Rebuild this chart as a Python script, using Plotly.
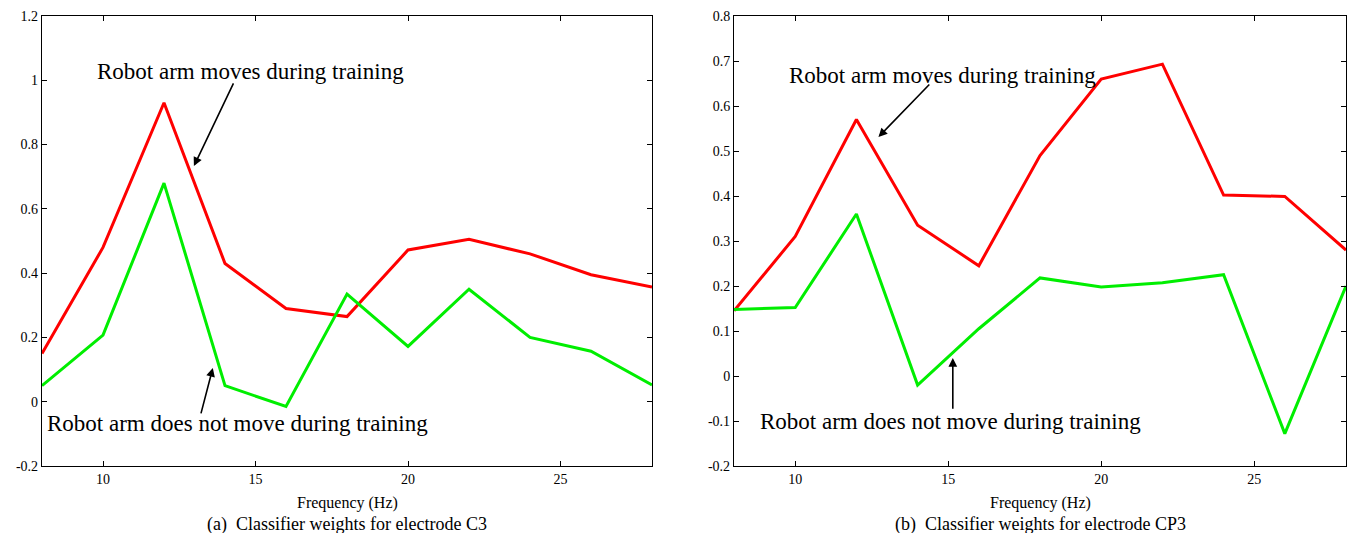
import plotly.graph_objects as go
from plotly.subplots import make_subplots

freq = [8, 10, 12, 14, 16, 18, 20, 22, 24, 26, 28]
c3_moves = [0.15, 0.48, 0.93, 0.43, 0.29, 0.265, 0.472, 0.505, 0.46, 0.395, 0.357]
c3_static = [0.05, 0.207, 0.68, 0.05, -0.015, 0.335, 0.172, 0.35, 0.20, 0.157, 0.052]
cp3_moves = [0.145, 0.31, 0.57, 0.335, 0.245, 0.49, 0.66, 0.693, 0.402, 0.399, 0.28]
cp3_static = [0.148, 0.152, 0.36, -0.02, 0.105, 0.218, 0.198, 0.207, 0.225, -0.128, 0.20]

left_ticks = [-0.2, 0, 0.2, 0.4, 0.6, 0.8, 1, 1.2]
left_ticktext = ["-0.2", "0", "0.2", "0.4", "0.6", "0.8", "1", "1.2"]
right_ticks = [-0.2, -0.1, 0, 0.1, 0.2, 0.3, 0.4, 0.5, 0.6, 0.7, 0.8]
right_ticktext = ["-0.2", "-0.1", "0", "0.1", "0.2", "0.3", "0.4", "0.5", "0.6", "0.7", "0.8"]
x_ticks = [10, 15, 20, 25]

FONT = "Liberation Serif, serif"
RED = "#ff0000"
GREEN = "#00ee00"
DOM_L = [0, 0.4678]
DOM_R = [0.5307, 1.0]

fig = make_subplots(rows=1, cols=2, horizontal_spacing=0.06)
fig.add_trace(go.Scatter(x=freq, y=c3_moves, mode="lines", line=dict(color=RED, width=3)), 1, 1)
fig.add_trace(go.Scatter(x=freq, y=c3_static, mode="lines", line=dict(color=GREEN, width=3)), 1, 1)
fig.add_trace(go.Scatter(x=freq, y=cp3_moves, mode="lines", line=dict(color=RED, width=3)), 1, 2)
fig.add_trace(go.Scatter(x=freq, y=cp3_static, mode="lines", line=dict(color=GREEN, width=3)), 1, 2)

axis_common = dict(showgrid=False, zeroline=False, showline=True, linecolor="black", linewidth=1.2,
                   mirror="ticks", ticks="inside", ticklen=5, tickcolor="black",
                   tickfont=dict(family=FONT, size=14, color="black"))

fig.update_xaxes(range=[8, 28], tickvals=x_ticks, domain=DOM_L, row=1, col=1, **axis_common)
fig.update_xaxes(range=[8, 28], tickvals=x_ticks, domain=DOM_R, row=1, col=2, **axis_common)
fig.update_yaxes(range=[-0.2, 1.2], tickvals=left_ticks, ticktext=left_ticktext, row=1, col=1, **axis_common)
fig.update_yaxes(range=[-0.2, 0.8], tickvals=right_ticks, ticktext=right_ticktext, row=1, col=2, **axis_common)

tfont = dict(family=FONT, size=23, color="black")
lfont = dict(family=FONT, size=16, color="black")
cfont = dict(family=FONT, size=18, color="black")
arrow = dict(text="", showarrow=True, arrowhead=2, arrowsize=1.1, arrowwidth=1.6, arrowcolor="black")
ann = [
    # left panel
    dict(x=9.74, y=1.026, xref="x", yref="y", text="Robot arm moves during training",
         showarrow=False, xanchor="left", yanchor="middle", font=tfont),
    dict(x=12.98, y=0.733, ax=14.3, ay=0.995, xref="x", yref="y", axref="x", ayref="y", **arrow),
    dict(x=8.1, y=-0.067, xref="x", yref="y", text="Robot arm does not move during training",
         showarrow=False, xanchor="left", yanchor="middle", font=tfont),
    dict(x=13.6, y=0.105, ax=13.2, ay=-0.041, xref="x", yref="y", axref="x", ayref="y", **arrow),
    # right panel
    dict(x=9.74, y=0.667, xref="x2", yref="y2", text="Robot arm moves during training",
         showarrow=False, xanchor="left", yanchor="middle", font=tfont),
    dict(x=12.72, y=0.531, ax=14.43, ay=0.651, xref="x2", yref="y2", axref="x2", ayref="y2", **arrow),
    dict(x=8.79, y=-0.1, xref="x2", yref="y2", text="Robot arm does not move during training",
         showarrow=False, xanchor="left", yanchor="middle", font=tfont),
    dict(x=15.15, y=0.04, ax=15.15, ay=-0.076, xref="x2", yref="y2", axref="x2", ayref="y2", **arrow),
    # axis titles
    dict(x=sum(DOM_L) / 2, y=-0.082, xref="paper", yref="paper", text="Frequency (Hz)",
         showarrow=False, xanchor="center", yanchor="middle", font=lfont),
    dict(x=sum(DOM_R) / 2, y=-0.082, xref="paper", yref="paper", text="Frequency (Hz)",
         showarrow=False, xanchor="center", yanchor="middle", font=lfont),
    # captions
    dict(x=sum(DOM_L) / 2, y=-0.129, xref="paper", yref="paper", text="(a)  Classifier weights for electrode C3",
         showarrow=False, xanchor="center", yanchor="middle", font=cfont),
    dict(x=sum(DOM_R) / 2, y=-0.129, xref="paper", yref="paper", text="(b)  Classifier weights for electrode CP3",
         showarrow=False, xanchor="center", yanchor="middle", font=cfont),
]
fig.update_layout(
    annotations=ann,
    width=1340, height=525,
    margin=dict(l=34, r=2, t=8, b=67),
    paper_bgcolor="white", plot_bgcolor="white",
    showlegend=False,
    font=dict(family=FONT, color="black"),
)
fig.write_html("out.html")
